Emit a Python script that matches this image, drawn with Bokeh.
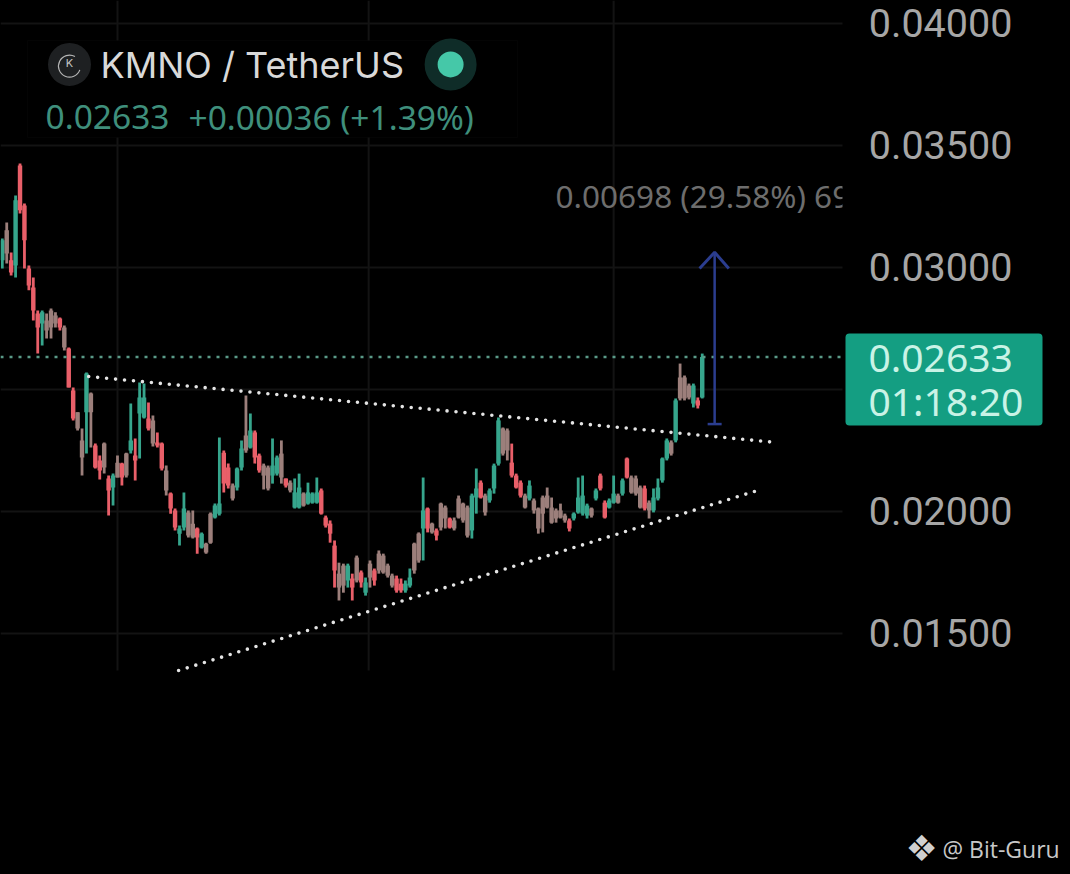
from bokeh.plotting import figure
from bokeh.models import Range1d, Span, Label, BoxAnnotation, Arrow, TeeHead, ColumnDataSource
from bokeh.core.properties import value
from bokeh.embed import file_html
from bokeh.resources import INLINE

# Prices in units of 0.00001 USDT, one candle per index
high = [3119,3184,3061,3295,3426,3262,3008,2959,2824,2824,2811,2832,2816,2795,2762,2672,2508,2406,2340,2569,
        2487,2278,2229,2282,2147,2155,2229,2200,2241,2442,2299,2528,2524,2446,2393,2324,2282,2188,2078,2012,
        1942,2078,2004,2004,1934,1914,1872,1996,2032,2303,2250,2196,2114,2180,2291,2475,2401,2332,2237,2196,
        2188,2299,2229,2291,2135,2127,2135,2155,2078,2118,2078,2139,2094,1983,1963,1881,1790,1786,1786,1745,
        1819,1758,1729,1799,1766,1840,1827,1786,1745,1737,1725,1717,1766,1872,1914,2139,2016,1954,1930,2036,
        2024,1975,1975,2065,2036,2024,2073,2176,2127,2073,2094,2196,2385,2344,2340,2278,2155,2127,2073,2127,
        2053,2016,2065,2098,2057,2012,2032,1991,1971,1996,2139,2147,2032,2016,2094,2155,2045,2053,2147,2073,
        2135,2221,2147,2147,2106,2106,2045,2094,2135,2221,2299,2291,2463,2606,2557,2524,2524,2467,2647]
open_ = [3029,3152,3029,3008,3418,3254,2996,2918,2811,2770,2783,2754,2803,2791,2754,2668,2496,2406,2291,2406,
         2483,2270,2209,2278,2135,2098,2200,2196,2237,2250,2229,2401,2385,2381,2373,2282,2278,2168,2073,2004,
         1909,1934,1996,1950,1930,1852,1868,1991,1975,1991,2241,2180,2106,2098,2180,2311,2262,2324,2229,2188,
         2180,2147,2155,2237,2135,2118,2016,2016,2073,2032,2036,2036,2086,1975,1950,1860,1745,1778,1717,1725,
         1811,1750,1667,1786,1758,1827,1819,1778,1737,1725,1704,1676,1696,1868,1909,1930,2012,1950,1922,2032,
         2016,1971,1963,2053,2032,2016,1922,2057,2118,2065,2045,2094,2196,2340,2332,2200,2147,2118,2065,2053,
         2045,2012,2057,2065,2016,2004,2004,1983,1963,1971,1996,1991,1983,2012,2053,2147,2036,2016,2036,2065,
         2073,2217,2139,2135,2098,2094,2036,2004,2053,2127,2217,2283,2291,2549,2549,2516,2442,2455,2467]
close = [3111,3057,2979,3275,3234,3111,2926,2824,2754,2816,2742,2824,2770,2754,2672,2508,2381,2340,2221,2565,
         2406,2180,2168,2180,2086,2147,2139,2139,2147,2291,2209,2467,2467,2340,2278,2270,2176,2086,2012,1934,
         1930,2012,1901,1893,1893,1909,1832,1872,2024,2032,2114,2106,2053,2176,2258,2250,2332,2221,2168,2147,
         2094,2188,2221,2139,2106,2086,2078,2098,2024,2078,2073,2078,1991,1942,1909,1758,1688,1696,1778,1688,
         1717,1709,1709,1729,1717,1758,1750,1737,1696,1676,1676,1704,1729,1758,1799,2004,1930,1914,1901,1934,
         1971,1934,1930,1975,1963,1901,2065,2094,2057,1996,2086,2188,2373,2237,2250,2147,2098,2065,2016,2106,
         2004,1930,1991,2016,1954,1971,1975,1963,1930,1991,2057,2065,2024,1983,2086,2094,1975,2045,2073,2036,
         2127,2139,2078,2073,2016,2012,2004,2057,2098,2217,2291,2237,2455,2463,2463,2467,2516,2434,2633]
low = [2996,3016,2967,2959,3221,2996,2906,2783,2647,2680,2709,2709,2754,2742,2660,2508,2373,2332,2147,2237,
       2262,2176,2131,2155,1983,2024,2139,2106,2139,2237,2127,2217,2381,2332,2266,2262,2168,2065,1991,1922,
       1860,1922,1893,1889,1827,1848,1827,1868,1971,1983,2078,2094,2045,2086,2168,2241,2258,2196,2159,2090,
       2086,2114,2147,2114,2098,2078,2012,2012,2020,2028,2032,2032,1987,1934,1872,1688,1635,1667,1688,1635,
       1709,1688,1655,1688,1696,1745,1745,1729,1688,1667,1667,1667,1688,1745,1790,1799,1914,1909,1881,1922,
       1930,1930,1922,1971,1954,1893,1889,1991,2053,1983,2036,2073,2188,2229,2209,2139,2094,2057,2012,2045,
       1991,1909,1914,2012,1950,1954,1971,1954,1918,1963,1991,1983,1971,1975,2045,2086,1971,2012,2032,2032,
       2065,2135,2073,2065,2012,2004,1971,1996,2045,2118,2209,2229,2283,2455,2455,2459,2426,2422,2463]
# candles that read grey-brown in the blurred picture
muted = [1,10,11,12,14,17,18,20,23,26,28,34,37,42,43,46,47,52,55,59,60,63,65,68,76,77,80,83,85,86,87,88,93,94,
         97,99,100,102,103,104,105,109,113,114,118,120,121,122,123,124,125,126,127,133,139,142,143,144,146,
         151,153,154,155]

axis_ticks = [0.015, 0.02, 0.03, 0.035, 0.04]
grid_ticks = [0.015, 0.02, 0.025, 0.03, 0.035, 0.04]
time_ticks = [26, 82.7, 138]
time_grid_from = 0.01348
last_price = 0.02633
resistance_x, resistance_y = [19.5, 174.5], [0.02553, 0.02283]
support_x, support_y = [39.8, 170.5], [0.01348, 0.02086]
target_x, target_from = 160.8, 0.02358
head_x, head_y = [157.4, 160.8, 164.0], [0.02996, 0.03062, 0.02996]

UNIT = 1e-5
GREEN, RED, GREY = "#36a58c", "#e95f69", "#9c7f7b"
colors = [GREY if i in muted else (GREEN if c >= o else RED) for i, (o, c) in enumerate(zip(open_, close))]
src = ColumnDataSource(dict(
    x=list(range(len(high))),
    high=[v * UNIT for v in high], low=[v * UNIT for v in low],
    top=[max(o, c) * UNIT for o, c in zip(open_, close)],
    bottom=[min(o, c) * UNIT for o, c in zip(open_, close)],
    color=colors))

XMIN, XMAX, YMIN, YMAX = -0.406, 241.13, 0.00512, 0.04094
p = figure(width=1070, height=874, output_backend="svg", toolbar_location=None,
           x_range=Range1d(XMIN, XMAX), y_range=Range1d(YMIN, YMAX),
           x_axis_location=None, y_axis_location=None,
           background_fill_color="#000000", border_fill_color="#000000",
           min_border=0, outline_line_color=None)
p.grid.visible = False

GRID = "#131313"
p.segment([XMIN] * len(grid_ticks), grid_ticks, [XMAX] * len(grid_ticks), grid_ticks,
          line_color=GRID, line_width=2, level="underlay")
p.segment(time_ticks, [time_grid_from] * len(time_ticks), time_ticks, [YMAX] * len(time_ticks),
          line_color=GRID, line_width=2, level="underlay")

# panel behind the title block
p.add_layout(BoxAnnotation(left=27, right=517, top=40, bottom=137,
                           left_units="canvas", right_units="canvas", top_units="canvas", bottom_units="canvas",
                           fill_color="#000000", fill_alpha=1, line_color="#0d0d0d", level="underlay"))

p.segment("x", "high", "x", "low", source=src, line_color="color", line_width=2.8)
p.vbar("x", 1.0, "top", "bottom", source=src, fill_color="color", line_color=None)

p.add_layout(Span(location=last_price, dimension="width", line_color="#5a9a88", line_width=2.5,
                  line_dash="3 6"))
p.line(resistance_x, resistance_y, line_color="#e4e4e4", line_width=3.6, line_dash="0 9", line_cap="round")
p.line(support_x, support_y, line_color="#e4e4e4", line_width=3.6, line_dash="0 9", line_cap="round")

BLUE = "#2b3d8f"
p.add_layout(Arrow(x_start=target_x, x_end=target_x, y_start=target_from, y_end=head_y[1],
                   line_color=BLUE, line_width=2.5, end=None,
                   start=TeeHead(size=14, line_color=BLUE, line_width=2.5)))
p.line(head_x, head_y, line_color=BLUE, line_width=3)

p.text([124.9], [0.03295], text=["0.00698 (29.58%) 69"], text_font=value("Noto Sans"), text_font_size="31.5px",
       text_color="#6d6d6d", text_baseline="middle")

# title block icons
p.scatter([15.17], [0.03832], size=43, fill_color="#1e2022", line_color=None)
p.arc([15.17], [0.03825], radius=11, radius_units="screen", start_angle=-0.35, end_angle=1.05,
      direction="clock", line_color="#b5b5b5", line_width=1.2)
p.text([15.17], [0.03838], text=["K"], text_font=value("Inter"), text_font_size="11px", text_color="#c4c4c4",
       text_align="center", text_baseline="middle")
p.scatter([101.2], [0.03832], size=52, fill_color="#0f2c28", line_color=None)
p.scatter([101.2], [0.03832], size=26, fill_color="#45c8a8", line_color=None)

# everything right of the plot area is the price scale
p.add_layout(BoxAnnotation(left=842, right=1070, top=0, bottom=874,
                           left_units="canvas", right_units="canvas", top_units="canvas", bottom_units="canvas",
                           fill_color="#000000", fill_alpha=1, line_color=None))
p.text([195.6] * len(axis_ticks), axis_ticks, text=[f"{t:.5f}" for t in axis_ticks], text_font=value("Roboto"),
       text_font_size="39.5px", text_color="#a6a6a6", text_baseline="middle", level="overlay")


def label(text, x, y, size, color, font="Noto Sans", **kw):
    p.add_layout(Label(x=x, y=y, x_units="canvas", y_units="canvas", text=text, text_font=font,
                       text_font_size=f"{size}px", text_color=color, text_baseline="middle", **kw))


label("KMNO / TetherUS", 100, 64, 36, "#d9d9d9", font="Inter")
label("0.02633", 45, 116, 33.5, "#3f8f7c")
label("+0.00036 (+1.39%)", 188, 116, 33.5, "#3f8f7c")

p.add_layout(BoxAnnotation(left=845, right=1042, top=333, bottom=425,
                           left_units="canvas", right_units="canvas", top_units="canvas", bottom_units="canvas",
                           fill_color="#149e82", fill_alpha=1, line_color=None, border_radius=4))
label("0.02633", 868, 358, 39, "#c9f3e6")
label("01:18:20", 868, 400, 39, "#c9f3e6")

label("\u2756", 905, 848, 36, "#d0d0d0", font="DejaVu Sans")
label("@ Bit-Guru", 942, 848, 23, "#c8c8c8", font="Open Sans")

html = file_html(p, INLINE)
html = html.replace("</head>", "<style>html,body{margin:0;background:#000;overflow:hidden}</style></head>")
open("out.html", "w").write(html)
